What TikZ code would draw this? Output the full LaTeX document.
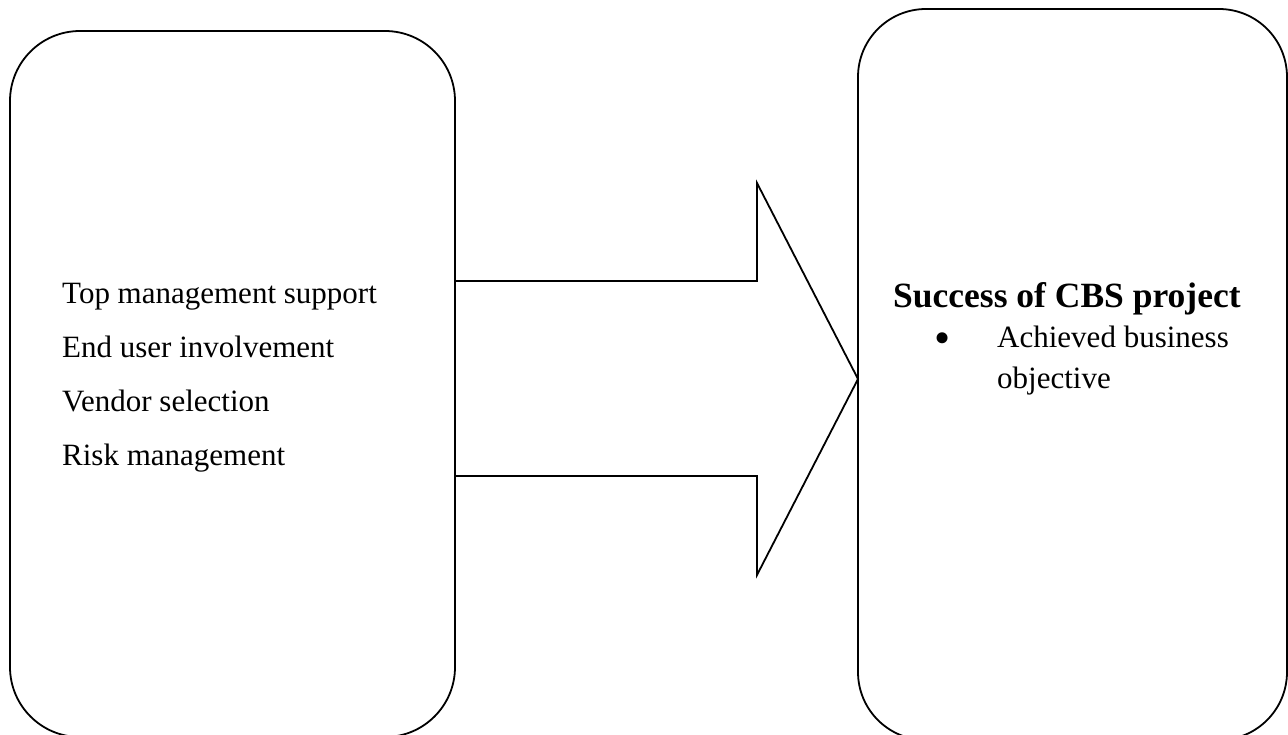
\documentclass[tikz,border=0pt]{standalone}
\usepackage{fontspec}
\setmainfont{Liberation Serif}
\begin{document}
\begin{tikzpicture}[x=1pt,y=-1pt,
  box/.style={draw=black,line width=1.8pt,rounded corners=70pt},
  arrowshape/.style={draw=black,line width=1.8pt,line join=miter},
  item/.style={anchor=base west,inner sep=0pt,font=\fontsize{31}{36}\selectfont},
  bulletmark/.style={anchor=base,inner sep=0pt,font=\fontsize{46}{46}\selectfont},
  title/.style={anchor=base west,inner sep=0pt,font=\fontsize{35.5}{40}\selectfont\bfseries}]
\useasboundingbox (0,0) rectangle (1288,734);
\draw[box] (10,31) rectangle (455,737);
\draw[box,rounded corners=68pt] (858,9) rectangle (1287,740);
\coordinate (a1) at (455,281);
\coordinate (a2) at (757,281);
\coordinate (a3) at (757,183);
\coordinate (tip) at (858,379);
\coordinate (a5) at (757,575);
\coordinate (a6) at (757,476);
\coordinate (a7) at (455,476);
\draw[arrowshape] (a1) -- (a2) -- (a3) -- (tip) -- (a5) -- (a6) -- (a7);
\node[item] (t1) at (62,303) {Top management support};
\node[item] (t2) at (62,357) {End user involvement};
\node[item] (t3) at (62,411) {Vendor selection};
\node[item] (t4) at (62,465) {Risk management};
\node[title] (s0) at (893,307) {Success of CBS project};
\node[bulletmark] (b0) at (943,353) {•};
\node[item] (s1) at (997,347) {Achieved business};
\node[item] (s2) at (997,388) {objective};
\end{tikzpicture}
\end{document}
